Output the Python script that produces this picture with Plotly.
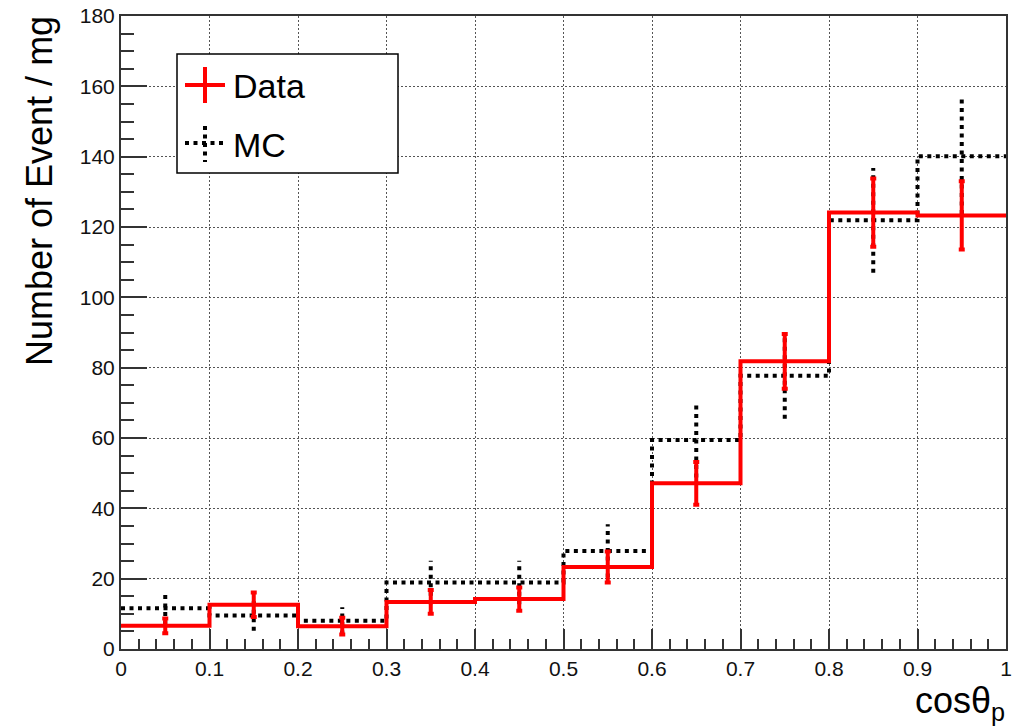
import plotly.graph_objects as go

# Binning in cos(theta_p)
bin_edges = [0.0, 0.1, 0.2, 0.3, 0.4, 0.5, 0.6, 0.7, 0.8, 0.9, 1.0]
bin_centers = [0.05, 0.15, 0.25, 0.35, 0.45, 0.55, 0.65, 0.75, 0.85, 0.95]

# Measured yield per mg and its statistical uncertainty
data_vals = [6.6, 12.6, 6.5, 13.4, 14.2, 23.3, 47.1, 81.8, 124.1, 123.3]
data_errs = [2.1, 3.5, 2.4, 3.4, 3.3, 4.4, 6.1, 7.8, 9.7, 9.7]

# Simulated yield per mg and its uncertainty
mc_vals = [11.6, 9.5, 8.0, 18.9, 18.9, 27.9, 59.4, 77.7, 121.9, 140.1]
mc_errs = [4.6, 4.3, 3.9, 6.2, 6.2, 7.6, 10.6, 12.2, 14.9, 16.4]

x_ticks = [0, 0.1, 0.2, 0.3, 0.4, 0.5, 0.6, 0.7, 0.8, 0.9, 1]
x_tick_text = ["0", "0.1", "0.2", "0.3", "0.4", "0.5", "0.6", "0.7", "0.8", "0.9", "1"]
y_ticks = [0, 20, 40, 60, 80, 100, 120, 140, 160, 180]

FONT = "Liberation Sans, Arial, Helvetica, sans-serif"
RED = "#ff0000"
MC_DASH = "4px,4.5px"

W, H = 1025, 726
ML, MR, MT, MB = 121, 19, 16, 77
PW, PH = W - ML - MR, H - MT - MB


def fx(px):
    return (px - ML) / PW


def fy(py):
    return (H - MB - py) / PH


def error_segments(centers, vals, errs):
    xs, ys = [], []
    for c, v, e in zip(centers, vals, errs):
        xs += [c, c, None]
        ys += [v - e, v + e, None]
    return xs, ys


fig = go.Figure()

# MC histogram (dotted step line) and its dotted error bars
fig.add_trace(go.Scatter(
    x=bin_edges, y=mc_vals + [mc_vals[-1]], mode="lines",
    line=dict(shape="hv", color="black", width=4, dash=MC_DASH),
    showlegend=False, hoverinfo="skip"))
mx, my = error_segments(bin_centers, mc_vals, mc_errs)
fig.add_trace(go.Scatter(
    x=mx, y=my, mode="lines",
    line=dict(color="black", width=4, dash=MC_DASH),
    showlegend=False, hoverinfo="skip"))

# Data histogram (red step line) with capped error bars
fig.add_trace(go.Scatter(
    x=bin_edges, y=data_vals + [data_vals[-1]], mode="lines",
    line=dict(shape="hv", color=RED, width=4),
    showlegend=False, hoverinfo="skip"))
fig.add_trace(go.Scatter(
    x=bin_centers, y=data_vals, mode="markers",
    marker=dict(size=1, color=RED, opacity=0),
    error_y=dict(type="data", array=data_errs, visible=True,
                 color=RED, thickness=4, width=3),
    showlegend=False, hoverinfo="skip"))

# Legend drawn by hand: framed box with line-cross symbols
shapes = [
    dict(type="rect", xref="paper", yref="paper",
         x0=fx(177), x1=fx(398), y0=fy(173), y1=fy(54),
         line=dict(color="black", width=1.5), fillcolor="white", layer="above"),
    dict(type="line", xref="paper", yref="paper",
         x0=fx(185), x1=fx(225), y0=fy(85), y1=fy(85),
         line=dict(color=RED, width=4), layer="above"),
    dict(type="line", xref="paper", yref="paper",
         x0=fx(205), x1=fx(205), y0=fy(67), y1=fy(103),
         line=dict(color=RED, width=4), layer="above"),
    dict(type="line", xref="paper", yref="paper",
         x0=fx(185), x1=fx(224), y0=fy(143), y1=fy(143),
         line=dict(color="black", width=4, dash=MC_DASH), layer="above"),
    dict(type="line", xref="paper", yref="paper",
         x0=fx(205), x1=fx(205), y0=fy(126), y1=fy(162),
         line=dict(color="black", width=4, dash=MC_DASH), layer="above"),
]

annotations = [
    dict(text="Data", xref="paper", yref="paper", x=fx(231), y=fy(86),
         xanchor="left", yanchor="middle", showarrow=False,
         font=dict(family=FONT, size=34, color="black")),
    dict(text="MC", xref="paper", yref="paper", x=fx(231), y=fy(145),
         xanchor="left", yanchor="middle", showarrow=False,
         font=dict(family=FONT, size=34, color="black")),
    dict(text="Number of Event / mg", xref="paper", yref="paper",
         x=fx(40), y=fy(14), xanchor="center", yanchor="top",
         textangle=-90, showarrow=False,
         font=dict(family=FONT, size=36, color="black")),
    dict(text="cosθ<sub>p</sub>", xref="paper", yref="paper",
         x=fx(1007), y=fy(703), xanchor="right", yanchor="middle",
         showarrow=False,
         font=dict(family=FONT, size=36, color="black")),
]

axis_common = dict(
    automargin=False,
    showline=True, linecolor="#333333", linewidth=2, mirror=True,
    ticks="inside", tickcolor="#333333", tickwidth=1.5,
    showgrid=True, gridcolor="#555555", gridwidth=1, griddash="2px,2px",
    zeroline=False,
    tickfont=dict(family=FONT, size=21, color="#111111"),
)

fig.update_layout(
    width=W, height=H,
    margin=dict(l=ML, r=MR, t=MT, b=MB, pad=0, autoexpand=False),
    paper_bgcolor="white", plot_bgcolor="white",
    xaxis=dict(range=[0, 1], tickvals=x_ticks, ticktext=x_tick_text,
               ticklen=20,
               minor=dict(dtick=0.02, ticks="inside", ticklen=10,
                          tickcolor="#333333", tickwidth=1.5, showgrid=False),
               **axis_common),
    yaxis=dict(range=[0, 180], tickvals=y_ticks, ticklen=26,
               minor=dict(dtick=5, ticks="inside", ticklen=13,
                          tickcolor="#333333", tickwidth=1.5, showgrid=False),
               **axis_common),
    shapes=shapes,
    annotations=annotations,
    showlegend=False,
)

fig.write_html("out.html")
